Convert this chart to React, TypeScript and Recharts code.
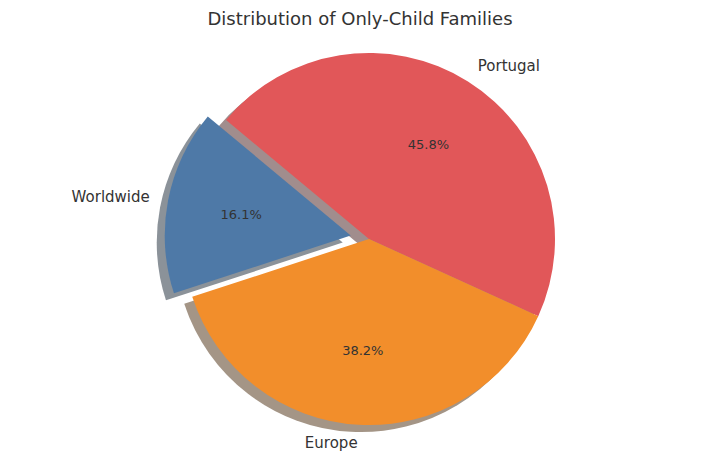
import React from 'react';
import { PieChart, Pie, Cell } from 'recharts';

const categories = ['Portugal', 'Worldwide', 'Europe'];
const shares = [45.8, 16.1, 38.2];
const exploded = ['Worldwide'];

const palette: Record<string, string> = {
  Portugal: '#E15759',
  Worldwide: '#4E79A7',
  Europe: '#F28E2B',
};
const shadowPalette: Record<string, string> = {
  Portugal: '#a18d8d',
  Worldwide: '#8b9299',
  Europe: '#a49586',
};

const data = categories.map((name, i) => ({ name, value: shares[i] }));

const CX = 369;
const CY = 239;
const R = 186;
const START = -24.5;
const SHADOW_DX = -8;
const SHADOW_DY = 7;
const RAD = Math.PI / 180;
const FONT = '"DejaVu Sans", sans-serif';

// explode offset along the slice's middle angle, 0.1 of the radius
const total = shares.reduce((a, b) => a + b, 0);
function explodeOffset(name: string) {
  const i = categories.indexOf(name);
  const before = shares.slice(0, i).reduce((a, b) => a + b, 0);
  const mid = START + ((before + shares[i] / 2) / total) * 360;
  return { dx: 0.1 * R * Math.cos(mid * RAD), dy: -0.1 * R * Math.sin(mid * RAD) };
}
const off = explodeOffset(exploded[0]);

const renderLabel = (show: (n: string) => boolean) => (p: any) => {
  if (!show(p.name)) return null;
  const cos = Math.cos(p.midAngle * RAD);
  const sin = Math.sin(p.midAngle * RAD);
  const lx = p.cx + 1.1 * p.outerRadius * cos;
  const ly = p.cy - 1.1 * p.outerRadius * sin;
  const px = p.cx + 0.6 * p.outerRadius * cos;
  const py = p.cy - 0.6 * p.outerRadius * sin;
  return (
    <g>
      <text x={lx} y={ly} textAnchor={cos > 0 ? 'start' : 'end'} dominantBaseline="central"
        fontFamily={FONT} fontSize={15} fill="#333">{p.name}</text>
      <text x={px} y={py} textAnchor="middle" dominantBaseline="central"
        fontFamily={FONT} fontSize={13} fill="#333">{`${p.value.toFixed(1)}%`}</text>
    </g>
  );
};

const isExploded = (n: string) => exploded.includes(n);

export default function App() {
  const common = {
    data,
    dataKey: 'value',
    nameKey: 'name',
    outerRadius: R,
    startAngle: START,
    endAngle: START + 360,
    stroke: 'none',
    labelLine: false,
    isAnimationActive: false,
  };
  return (
    <div style={{ position: 'absolute', left: 0, top: 0, width: 720, height: 462, background: '#fff' }}>
      <PieChart width={720} height={462} margin={{ top: 0, right: 0, bottom: 0, left: 0 }}>
        <text x={360} y={18} textAnchor="middle" dominantBaseline="central"
          fontFamily={FONT} fontSize={18} fill="#333">Distribution of Only-Child Families</text>
        {/* shadows */}
        <Pie {...common} cx={CX + SHADOW_DX} cy={CY + SHADOW_DY}>
          {data.map((d) => (
            <Cell key={d.name} fill={isExploded(d.name) ? 'transparent' : shadowPalette[d.name]} />
          ))}
        </Pie>
        <Pie {...common} cx={CX + off.dx + SHADOW_DX} cy={CY + off.dy + SHADOW_DY}>
          {data.map((d) => (
            <Cell key={d.name} fill={isExploded(d.name) ? shadowPalette[d.name] : 'transparent'} />
          ))}
        </Pie>
        {/* wedges */}
        <Pie {...common} cx={CX} cy={CY} label={renderLabel((n) => !isExploded(n))}>
          {data.map((d) => (
            <Cell key={d.name} fill={isExploded(d.name) ? 'transparent' : palette[d.name]} />
          ))}
        </Pie>
        <Pie {...common} cx={CX + off.dx} cy={CY + off.dy} label={renderLabel(isExploded)}>
          {data.map((d) => (
            <Cell key={d.name} fill={isExploded(d.name) ? palette[d.name] : 'transparent'} />
          ))}
        </Pie>
      </PieChart>
    </div>
  );
}
